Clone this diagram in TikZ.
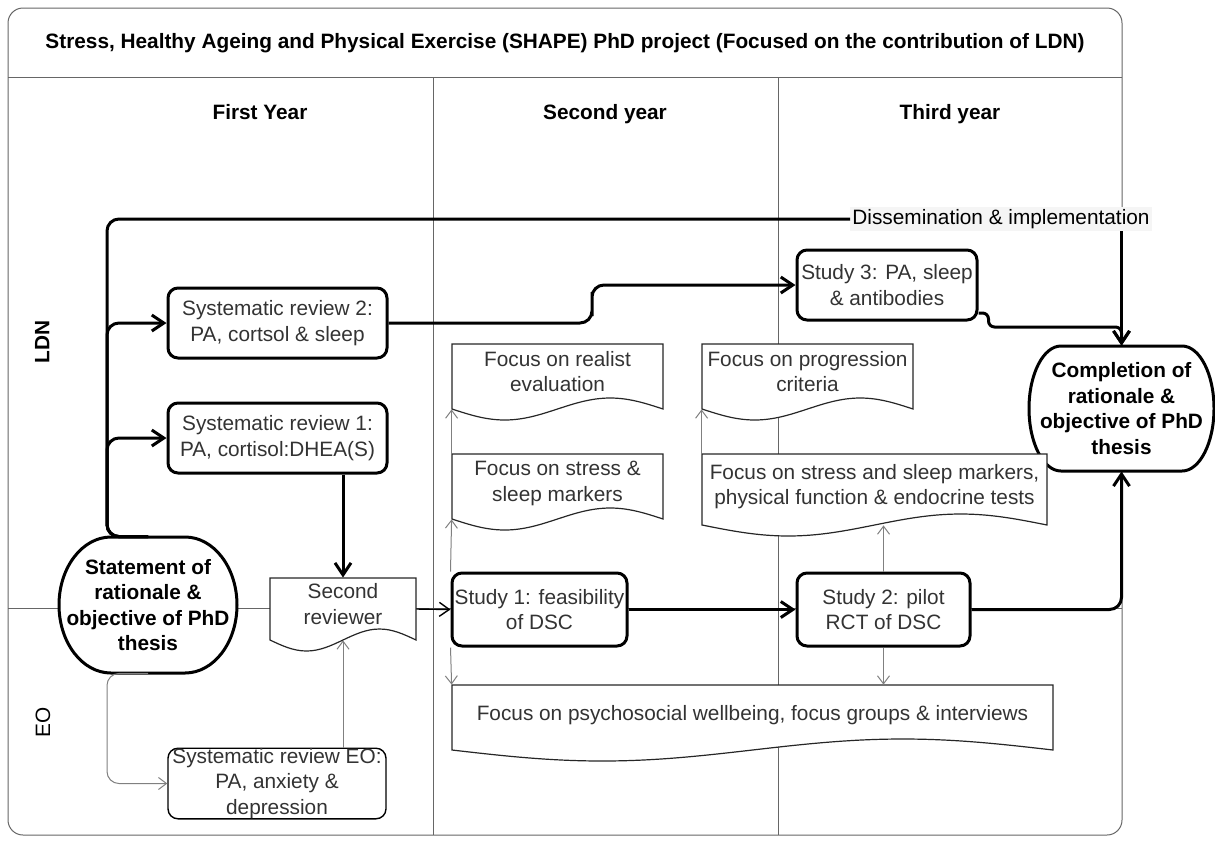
\documentclass[tikz,border=0pt]{standalone}
\usepackage{fontspec}
\setmainfont{Liberation Sans}
\usetikzlibrary{calc,arrows.meta}

\newcommand{\txt}{\fontsize{10.4}{12.8}\selectfont}
% document shape with wavy bottom: name, centre, width, height (px), text
\newcommand{\docnode}[5]{\draw[docline] (#2) ++(-#3/2,#4/2) sin ++(#3/4,11) cos ++(#3/4,-11) sin ++(#3/4,-11) cos ++(#3/4,11) -- ++(0,-#4) -- ++(-#3,0) -- cycle;
\node[docbox, minimum width=#3*0.5pt, minimum height=#4*0.5pt] (#1) at (#2) {#5};}
% oval milestone: name, centre, width, height, end radius (px), text
\newcommand{\ovalnode}[6]{\draw[ovalline] (#2) ++(#5-#3/2,-#4/2) -- ++(#3-2*#5,0) arc[start angle=-90, end angle=90, x radius=#5, y radius=#4/2] -- ++(2*#5-#3,0) arc[start angle=90, end angle=270, x radius=#5, y radius=#4/2] -- cycle;
\node[ovalbox, minimum width=#3*0.5pt, minimum height=#4*0.5pt] (#1) at (#2) {#6};}

\begin{document}
\begin{tikzpicture}[x=0.5pt, y=-0.5pt, font=\txt,
  lane/.style={draw=black!60, line width=0.5pt},
  hdr/.style={font=\txt\bfseries, text height=1.6ex, text depth=0.4ex},
  box/.style={draw, fill=white, rounded corners=5pt, line width=1.5pt, align=center, inner sep=0pt, text=black!80},
  thinbox/.style={box, line width=0.7pt},
  ovalline/.style={draw, fill=white, line width=1.5pt},
  ovalbox/.style={align=center, inner sep=0pt, font=\txt\bfseries},
  docline/.style={draw=black!85, fill=white, line width=0.6pt},
  docbox/.style={align=center, inner sep=0pt, text depth=5pt, text=black!80},
  flowline/.style={line width=1.5pt, rounded corners=6pt},
  flow/.style={flowline, -{Straight Barb[length=6pt,width=8pt]}},
  link/.style={line width=0.7pt, -{Straight Barb[length=5pt,width=7pt]}},
  thinflow/.style={draw=black!50, line width=0.5pt, rounded corners=6pt, -{Straight Barb[length=4pt,width=6pt]}}]
\useasboundingbox (0,0) rectangle (1215,842);
% pool, columns and lanes
\draw[lane, rounded corners=7.5pt] (8,8) rectangle (1122,835);
\draw[lane] (8,77) -- (1122,77) (433,77) -- (433,835) (778,77) -- (778,835) (8,608) -- (1122,608);
\node[hdr] (title) at (565,42) {Stress, Healthy Ageing and Physical Exercise (SHAPE) PhD project (Focused on the contribution of LDN)};
\foreach \x/\t/\n in {260/First Year/yr1, 605/Second year/yr2, 950/Third year/yr3}{\node[hdr] (\n) at (\x,113) {\t};}
\node[hdr, rotate=90] (ldn) at (43,342) {LDN};
\node[rotate=90] (eo) at (43,722) {EO};
% milestones and tasks
\ovalnode{stmt}{148,605}{178}{136}{52}{Statement of\\rationale \&\\objective of PhD\\thesis}
\ovalnode{done}{1121.5,408.5}{185}{125}{32}{Completion of\\rationale \&\\objective of PhD\\thesis}
\node[box, minimum width=109.5pt, minimum height=35pt] (sr2) at (277.5,323) {Systematic review 2:\\PA, cortsol \& sleep};
\node[box, minimum width=109.5pt, minimum height=35pt] (sr1) at (277.5,438) {Systematic review 1:\\PA, cortisol:DHEA(S)};
\node[thinbox, minimum width=109pt, minimum height=34.5pt] (sreo) at (277,783.5) {Systematic review EO:\\PA, anxiety \&\\depression};
\node[box, minimum width=87.5pt, minimum height=36.5pt] (st1) at (539.5,609.5) {Study 1: feasibility\\of DSC};
\node[box, minimum width=86.5pt, minimum height=36.5pt] (st2) at (883.5,609.5) {Study 2: pilot\\RCT of DSC};
\node[box, minimum width=90pt, minimum height=35pt] (st3) at (887,285) {Study 3: PA, sleep\\\& antibodies};
\node[fill=black!4, inner sep=1pt] (dis) at (1001,219) {Dissemination \& implementation};
% documents
\docnode{rev}{343,609}{146}{62}{Second\\reviewer}
\docnode{rea}{557.5,376.5}{211}{65}{Focus on realist\\evaluation}
\docnode{str}{557.5,486.5}{211}{65}{Focus on stress \&\\sleep markers}
\docnode{prog}{807.5,376.5}{211}{65}{Focus on progression\\criteria}
\docnode{phys}{874.5,489.5}{345}{71}{Focus on stress and sleep markers,\\physical function \& endocrine tests}
\docnode{psy}{752.5,717.5}{601}{65}{Focus on psychosocial wellbeing, focus groups \& interviews}
% LDN flow
\draw[flowline] (stmt.north) -- ++(-41,0) |- (dis.west);
\draw[flow] (dis.south -| done.north) -- (done.north);
\foreach \n in {sr2,sr1}{\draw[flow] (stmt.north) -- ++(-41,0) |- (\n.west);}
\draw[flow] (sr1.south -| rev.north) -- (rev.north);
\draw[link] (rev.east) -- (st1.west);
\draw[flow] (sr2.east) -| ($(sr2.east)!.5!(st3.west)$) |- (st3.west);
\draw[flow, rounded corners=3pt] ($(st3.east)+(0,28)$) -| ++(10,14) -| (done.north);
\draw[flow] (st1.east) -- (st2.west);
\draw[flow] (st2.east) -| (done.south);
% EO flow
\draw[thinflow] (stmt.south) -- ++(-41,0) |- (sreo.west);
\draw[thinflow] (sreo.north -| rev.south) -- (rev.south);
% study outputs
\draw[thinflow] (st1.north west) -- (str.south west);
\draw[thinflow] (str.north west) -- (rea.south west);
\draw[thinflow] (st2.north) -- (st2.north |- phys.south);
\draw[thinflow] (phys.north west) -- (prog.south west);
\draw[thinflow] (st1.south west) -- (psy.north west);
\draw[thinflow] (st2.south) -- (st2.south |- psy.north);
\end{tikzpicture}
\end{document}
